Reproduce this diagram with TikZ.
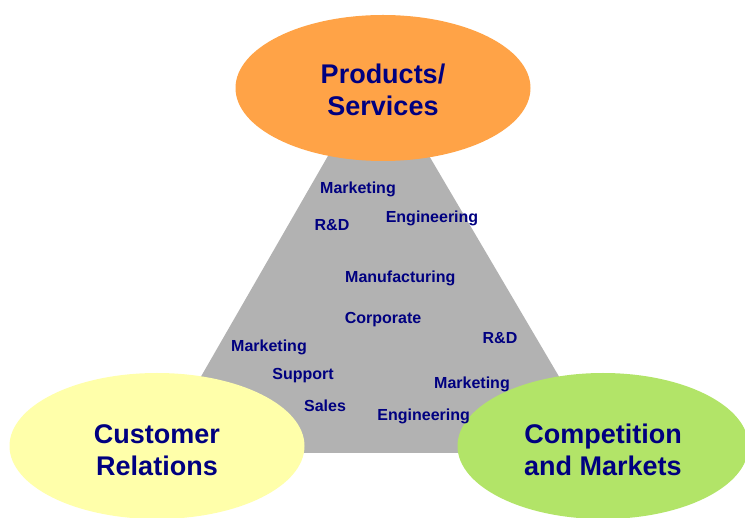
\documentclass[tikz,border=0pt]{standalone}
\usepackage{fontspec}
\setmainfont{Liberation Sans}
\usetikzlibrary{shapes.geometric}

\definecolor{bleuTexte}{RGB}{0,0,128}
\definecolor{orangeProd}{RGB}{255,163,71}
\definecolor{jauneClient}{RGB}{255,255,170}
\definecolor{vertMarche}{RGB}{178,228,104}
\definecolor{grisFond}{RGB}{178,178,178}

\begin{document}
\begin{tikzpicture}[x=1pt, y=-1pt,
    every node/.style={text=bleuTexte, inner sep=0pt},
    pole/.style={ellipse, minimum width=295pt, minimum height=146pt, align=center,
      font=\fontsize{27}{32}\selectfont\bfseries},
    dept/.style={anchor=base, font=\fontsize{16}{19}\selectfont\bfseries}]
    \useasboundingbox (0,0) rectangle (745,518);
    % triangle de fond
    \coordinate (A) at (378,69);
    \coordinate (B) at (157,453);
    \coordinate (C) at (604,453);
    \fill[grisFond] (A) -- (B) -- (C) -- cycle;
    % les trois pôles
    \node[pole, fill=orangeProd, text height=56pt] (produits) at (383,88) {Products/\\Services};
    \node[pole, fill=jauneClient, text height=60pt] (clients) at (157,446) {Customer\\Relations};
    \node[pole, fill=vertMarche, text height=60pt, minimum width=291pt] (marches) at (603,446) {Competition\\and Markets};
    % départements
    \node[dept] (mktA) at (358,193.3) {Marketing};
    \node[dept] (rdA) at (332,230.7) {R\&D};
    \node[dept] (engA) at (432,222.3) {Engineering};
    \node[dept] (manuf) at (400.3,282.3) {Manufacturing};
    \node[dept] (corpo) at (383,323.3) {Corporate};
    \node[dept] (rdB) at (500,344) {R\&D};
    \node[dept] (mktB) at (269,352) {Marketing};
    \node[dept] (support) at (303,380) {Support};
    \node[dept] (mktC) at (472,388.3) {Marketing};
    \node[dept] (ventes) at (325,411.7) {Sales};
    \node[dept] (engB) at (423.7,420.7) {Engineering};
\end{tikzpicture}
\end{document}
